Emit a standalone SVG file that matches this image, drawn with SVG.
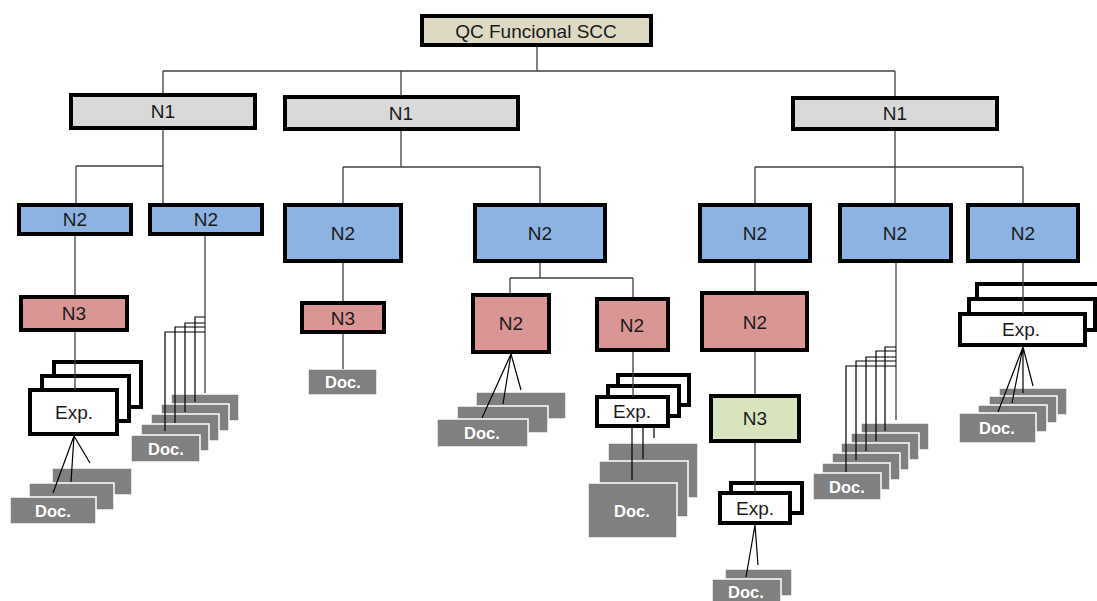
<svg xmlns="http://www.w3.org/2000/svg" width="1097" height="601" viewBox="0 0 1097 601">
<style>
.box{stroke:#000;stroke-width:4}
.n0{fill:#ddd9c3}.n1{fill:#d9d9d9}.n2{fill:#8db3e2}.n3{fill:#da9694}.ng{fill:#d7e4bc}.ex{fill:#fff}
.doc{fill:#808080;stroke:#fff;stroke-width:1.5}
.t{font-family:"Liberation Sans",Arial,sans-serif;font-size:19px;fill:#1a1a1a;text-anchor:middle}
.td{font-family:"Liberation Sans",Arial,sans-serif;font-size:16.5px;font-weight:bold;fill:#fff;text-anchor:middle}
.c{fill:none;stroke:#404040;stroke-width:1.3}
.k{fill:none;stroke:#000;stroke-width:1.2}
</style>
<rect width="1097" height="601" fill="#fff"/>
<g id="root"><rect class="box n0" x="422" y="16" width="229" height="29"/><text class="t" x="536" y="38" font-size="21">QC Funcional SCC</text></g>
<g id="n1a"><rect class="box n1" x="71" y="95" width="184" height="33"/><text class="t" x="163" y="118">N1</text></g>
<g id="n1b"><rect class="box n1" x="285" y="97" width="233" height="32"/><text class="t" x="401" y="120">N1</text></g>
<g id="n1c"><rect class="box n1" x="793" y="98" width="204" height="31"/><text class="t" x="895" y="120">N1</text></g>
<g id="n2a"><rect class="box n2" x="19" y="205" width="112" height="29"/><text class="t" x="75" y="226">N2</text></g>
<g id="n2b"><rect class="box n2" x="150" y="205" width="112" height="29"/><text class="t" x="206" y="226">N2</text></g>
<g id="n2c"><rect class="box n2" x="285" y="205" width="116" height="56"/><text class="t" x="343" y="240">N2</text></g>
<g id="n2d"><rect class="box n2" x="475" y="205" width="130" height="56"/><text class="t" x="540" y="240">N2</text></g>
<g id="n2e"><rect class="box n2" x="700" y="205" width="110" height="56"/><text class="t" x="755" y="240">N2</text></g>
<g id="n2f"><rect class="box n2" x="840" y="205" width="111" height="56"/><text class="t" x="895" y="240">N2</text></g>
<g id="n2g"><rect class="box n2" x="968" y="205" width="110" height="56"/><text class="t" x="1023" y="240">N2</text></g>
<g id="n3a"><rect class="box n3" x="21" y="297" width="106" height="33"/><text class="t" x="74" y="320">N3</text></g>
<g id="n3c"><rect class="box n3" x="302" y="303" width="82" height="29"/><text class="t" x="343" y="325">N3</text></g>
<g id="n2p1"><rect class="box n3" x="473" y="295" width="76" height="57"/><text class="t" x="511" y="330">N2</text></g>
<g id="n2p2"><rect class="box n3" x="597" y="299" width="71" height="51"/><text class="t" x="632" y="332">N2</text></g>
<g id="n2p3"><rect class="box n3" x="702" y="293" width="105" height="57"/><text class="t" x="755" y="329">N2</text></g>
<g id="n3g"><rect class="box ng" x="711" y="396" width="88" height="45"/><text class="t" x="755" y="425">N3</text></g>
<g id="expA">
<rect class="box ex" x="54" y="362" width="87" height="45"/>
<rect class="box ex" x="42" y="376" width="87" height="45"/>
<rect class="box ex" x="30" y="390" width="87" height="44"/>
<text class="t" x="74" y="419">Exp.</text></g>
<g id="expB">
<rect class="box ex" x="618" y="375" width="71" height="30"/>
<rect class="box ex" x="608" y="386" width="71" height="30"/>
<rect class="box ex" x="597" y="397" width="71" height="29"/>
<text class="t" x="632" y="418" font-size="18">Exp.</text></g>
<g id="expC">
<rect class="box ex" x="731" y="483" width="71" height="30"/>
<rect class="box ex" x="720" y="493" width="70" height="30"/>
<text class="t" x="755" y="515" font-size="18">Exp.</text></g>
<g id="expD">
<rect class="box ex" x="977" y="284" width="130" height="31"/>
<rect class="box ex" x="969" y="299" width="126" height="31"/>
<rect class="box ex" x="960" y="314" width="125" height="31"/>
<text class="t" x="1021" y="336" font-size="18">Exp.</text></g>
<g id="docA">
<rect class="doc" x="52" y="468" width="80" height="27"/>
<rect class="doc" x="29" y="483" width="85" height="27"/>
<rect class="doc" x="10" y="497" width="86" height="27"/>
<text class="td" x="53" y="517">Doc.</text></g>
<g id="docB">
<rect class="doc" x="171" y="394" width="68" height="27"/>
<rect class="doc" x="161" y="404" width="68" height="27"/>
<rect class="doc" x="151" y="414" width="68" height="27"/>
<rect class="doc" x="141" y="424" width="68" height="27"/>
<rect class="doc" x="131" y="435" width="69" height="27"/>
<text class="td" x="166" y="455">Doc.</text></g>
<g id="docC"><rect class="doc" x="308" y="369" width="69" height="26"/><text class="td" x="343" y="388">Doc.</text></g>
<g id="docD">
<rect class="doc" x="476" y="392" width="90" height="27"/>
<rect class="doc" x="457" y="406" width="91" height="27"/>
<rect class="doc" x="437" y="419" width="91" height="28"/>
<text class="td" x="482" y="439">Doc.</text></g>
<g id="docE">
<rect class="doc" x="608" y="443" width="90" height="55"/>
<rect class="doc" x="599" y="461" width="89" height="56"/>
<rect class="doc" x="588" y="483" width="89" height="55"/>
<text class="td" x="632" y="517" font-size="17">Doc.</text></g>
<g id="docF">
<rect class="doc" x="725" y="569" width="67" height="27"/>
<rect class="doc" x="712" y="579" width="69" height="27"/>
<text class="td" x="746" y="598">Doc.</text></g>
<g id="docG">
<rect class="doc" x="861" y="423" width="68" height="27"/>
<rect class="doc" x="851" y="433" width="68" height="27"/>
<rect class="doc" x="841" y="443" width="68" height="27"/>
<rect class="doc" x="832" y="453" width="68" height="27"/>
<rect class="doc" x="822" y="463" width="68" height="27"/>
<rect class="doc" x="813" y="473" width="68" height="27"/>
<text class="td" x="847" y="493">Doc.</text></g>
<g id="docH">
<rect class="doc" x="999" y="388" width="68" height="27"/>
<rect class="doc" x="989" y="396" width="68" height="27"/>
<rect class="doc" x="978" y="405" width="69" height="27"/>
<rect class="doc" x="959" y="413" width="77" height="30"/>
<text class="td" x="997" y="434">Doc.</text></g>
<g id="connectors">
<path class="c" d="M537,47V71M163,71H895M163,71V93M401,71V95M895,71V96"/>
<path class="c" d="M163,130V166M76,166H163M76,166V203M163,166V203"/>
<path class="c" d="M401,131V167M343,167H540M343,167V203M540,167V203"/>
<path class="c" d="M895,131V167M755,167H1023M755,167V203M895,167V203M1023,167V203"/>
<path class="c" d="M75,236V295M75,332V390"/>
<path class="c" d="M343,263V301M343,334V369"/>
<path class="c" d="M540,263V278M510,278H633M510,278V293M633,278V297M633,352V397"/>
<path class="c" d="M755,263V291M755,352V394M755,443V493"/>
<path class="c" d="M205,236V393M896,263V420M1023,263V314"/>
<path class="k" d="M205,317H195V402M205,323H185V412M205,327H175V423M205,332H165V431"/>
<path class="k" d="M896,347H885V431M896,351H876V441M896,357H866V451M896,361H856V460M896,366H846V472"/>
<path class="k" d="M74,436L53,493M74,436L71,482M74,436L90,463"/>
<path class="k" d="M511,354L482,418M511,354L503,404M511,354L521,390"/>
<path class="k" d="M632,428V480M643,428V459M654,428V438"/>
<path class="k" d="M755,525L746,577M755,525L758,565"/>
<path class="k" d="M1023,347L998,412M1023,347L1012,403M1023,347L1023,393M1023,347L1033,386"/>
</g>
</svg>
